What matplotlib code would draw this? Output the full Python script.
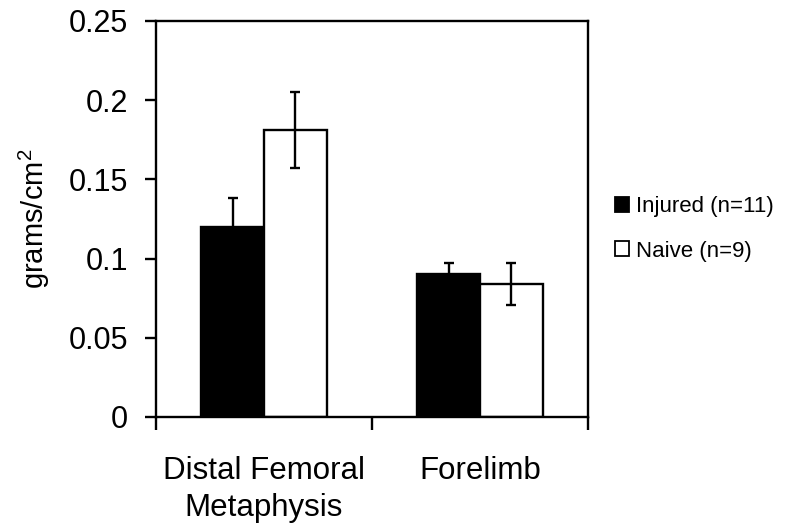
import matplotlib
matplotlib.use("Agg")
import matplotlib.pyplot as plt
from matplotlib.patches import Patch
import numpy as np

categories = ["Distal Femoral\nMetaphysis", "Forelimb"]
series = ["Injured (n=11)", "Naive (n=9)"]
injured = [0.120, 0.090]
injured_err = [0.018, 0.007]
naive = [0.181, 0.084]
naive_err = [0.024, 0.013]
yticks = [0, 0.05, 0.1, 0.15, 0.2, 0.25]
ytick_labels = ["0", "0.05", "0.1", "0.15", "0.2", "0.25"]

plt.rcParams['font.family'] = ['Liberation Sans', 'DejaVu Sans']
plt.rcParams['mathtext.fontset'] = 'custom'
plt.rcParams['mathtext.rm'] = 'Liberation Sans'
plt.rcParams['mathtext.it'] = 'Liberation Sans'

fig = plt.figure(figsize=(7.85, 5.29), dpi=100)
ax = fig.add_axes([156/785, 1-417/529, (588-156)/785, (417-21)/529])

x = np.arange(len(categories))
w = 0.29
lw = 1.7
ekw = dict(ecolor='black', elinewidth=lw, capsize=3.5, capthick=lw)
ax.bar(x - w/2, injured, w, color='black', edgecolor='black', linewidth=lw,
       yerr=injured_err, error_kw=ekw, zorder=2)
ax.bar(x + w/2, naive, w, color='white', edgecolor='black', linewidth=lw,
       yerr=naive_err, error_kw=ekw, zorder=2)

ax.set_xlim(-0.5, 1.5)
ax.set_ylim(0, 0.25)
ax.set_yticks(yticks)
ax.set_yticklabels(ytick_labels, fontsize=22)
ax.tick_params(axis='y', direction='out', length=8, width=lw, pad=12)

ax.set_xticks([-0.5, 0.5, 1.5])
ax.set_xticklabels([])
ax.set_xticks(x, minor=True)
ax.set_xticklabels(categories, minor=True, fontsize=22.5, linespacing=1.32)
ax.tick_params(axis='x', which='major', direction='out', length=9, width=lw)
ax.tick_params(axis='x', which='minor', length=0, pad=28)

for s in ax.spines.values():
    s.set_linewidth(lw)

ax.set_ylabel("grams/cm$^2$", fontsize=21)
ax.yaxis.set_label_coords((52-156)/432, 0.5)

handles = [Patch(facecolor='black', edgecolor='black', linewidth=1.3),
           Patch(facecolor='white', edgecolor='black', linewidth=1.3)]
fig.legend(handles, series, loc='center left', bbox_to_anchor=(606/785, 1-229/529),
           frameon=False, fontsize=16, handlelength=0.65, handleheight=0.65,
           handletextpad=0.3, labelspacing=1.05, borderaxespad=0)

fig.savefig("out.png", dpi=100)
